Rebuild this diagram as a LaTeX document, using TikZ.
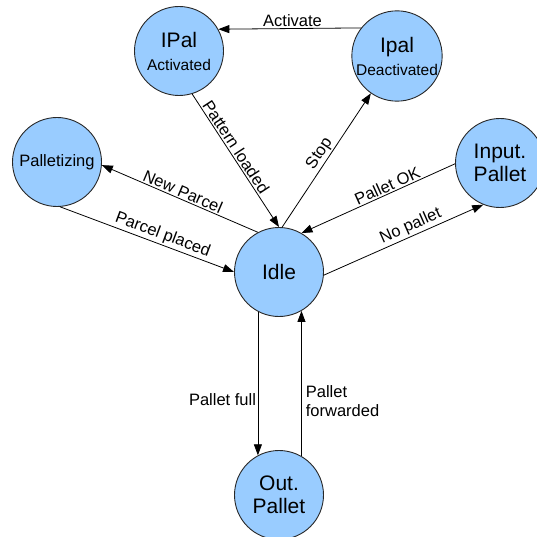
\documentclass[tikz,border=0pt]{standalone}
\usepackage{fontspec}
\setmainfont{Liberation Sans}
\usetikzlibrary{arrows.meta}
\definecolor{statefill}{RGB}{153,204,255}
\definecolor{stateline}{RGB}{40,40,40}

\begin{document}
\begin{tikzpicture}[x=1pt,y=-1pt,
  state/.style={circle, draw=stateline, line width=0.9pt, fill=statefill,
    minimum size=89pt, inner sep=0pt, align=center,
    font=\fontsize{21}{23}\selectfont},
  trans/.style={draw=black, line width=0.8pt,
    -{Triangle[length=11pt,width=8pt]}},
  lbl/.style={font=\fontsize{16.5}{19}\selectfont, inner sep=1.5pt},
]
\useasboundingbox (0,0) rectangle (536,537);

% states
\node[state] (ipa)  at (179,51)  {IPal\\\fontsize{15.5}{19}\selectfont Activated};
\node[state] (ipd)  at (397,56)  {Ipal\\\fontsize{15.5}{19}\selectfont Deactivated};
\node[state, font=\fontsize{16.5}{19}\selectfont] (pal) at (57,162) {Palletizing};
\node[state] (inp)  at (500,163) {Input.\\Pallet};
\node[state] (idle) at (279,272) {Idle};
\node[state] (out)  at (279,495) {Out.\\Pallet};

% transitions
\draw[trans] (ipd.142.6) -- node[lbl, above, pos=0.48] {Activate} (ipa.29.6);
\draw[trans] (ipa.-73) -- node[lbl, sloped, above, pos=0.43] {Pattern loaded} (idle.90);
\draw[trans] (idle.86) -- node[lbl, sloped, above, pos=0.51] {Stop} (ipd.-125);
\draw[trans] (idle.118) -- node[lbl, sloped, above, pos=0.5] {New Parcel} (pal.-4);
\draw[trans] (pal.-86) -- node[lbl, sloped, above, pos=0.57] {Parcel placed} (idle.180);
\draw[trans] (inp.181) -- node[lbl, sloped, above, pos=0.42] {Pallet OK} (idle.60);
\draw[trans] (idle.-4) -- node[lbl, sloped, above, pos=0.57] {No pallet} (inp.-112);
\draw[trans] (idle.-118) -- node[lbl, left, pos=0.61] {Pallet full} (out.118);
\draw[trans] (out.60) -- node[lbl, right, align=left, pos=0.38, inner sep=4pt] {Pallet\\forwarded} (idle.-60);
\end{tikzpicture}
\end{document}
